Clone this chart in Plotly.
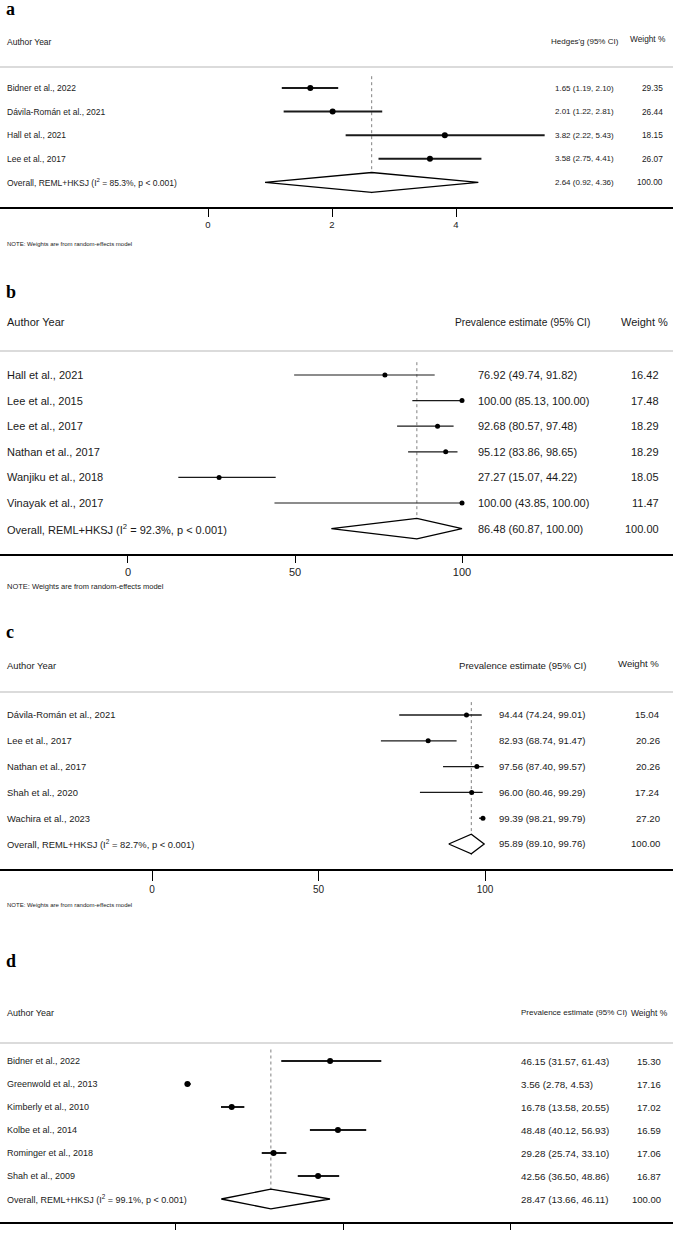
import plotly.graph_objects as go

# ---------------- data ----------------
# Panel a
a_study = ["Bidner et al., 2022", "Dávila-Román et al., 2021", "Hall et al., 2021", "Lee et al., 2017"]
a_est = [1.65, 2.01, 3.82, 3.58]
a_lo = [1.19, 1.22, 2.22, 2.75]
a_hi = [2.10, 2.81, 5.43, 4.41]
a_w = [29.35, 26.44, 18.15, 26.07]
a_overall = [2.64, 0.92, 4.36]
a_overall_w = 100.00
a_i2 = 85.3
a_ticks = [0, 2, 4]

# Panel b
b_study = ["Hall et al., 2021", "Lee et al., 2015", "Lee et al., 2017", "Nathan et al., 2017",
           "Wanjiku et al., 2018", "Vinayak et al., 2017"]
b_est = [76.92, 100.00, 92.68, 95.12, 27.27, 100.00]
b_lo = [49.74, 85.13, 80.57, 83.86, 15.07, 43.85]
b_hi = [91.82, 100.00, 97.48, 98.65, 44.22, 100.00]
b_w = [16.42, 17.48, 18.29, 18.29, 18.05, 11.47]
b_overall = [86.48, 60.87, 100.00]
b_overall_w = 100.00
b_i2 = 92.3
b_ticks = [0, 50, 100]

# Panel c
c_study = ["Dávila-Román et al., 2021", "Lee et al., 2017", "Nathan et al., 2017", "Shah et al., 2020",
           "Wachira et al., 2023"]
c_est = [94.44, 82.93, 97.56, 96.00, 99.39]
c_lo = [74.24, 68.74, 87.40, 80.46, 98.21]
c_hi = [99.01, 91.47, 99.57, 99.29, 99.79]
c_w = [15.04, 20.26, 20.26, 17.24, 27.20]
c_overall = [95.89, 89.10, 99.76]
c_overall_w = 100.00
c_i2 = 82.7
c_ticks = [0, 50, 100]

# Panel d
d_study = ["Bidner et al., 2022", "Greenwold et al., 2013", "Kimberly et al., 2010", "Kolbe et al., 2014",
           "Rominger et al., 2018", "Shah et al., 2009"]
d_est = [46.15, 3.56, 16.78, 48.48, 29.28, 42.56]
d_lo = [31.57, 2.78, 13.58, 40.12, 25.74, 36.50]
d_hi = [61.43, 4.53, 20.55, 56.93, 33.10, 48.86]
d_w = [15.30, 17.16, 17.02, 16.59, 17.06, 16.87]
d_overall = [28.47, 13.66, 46.11]
d_overall_w = 100.00
d_i2 = 99.1
d_ticks = [0, 50, 100]

# ---------------- styling / layout ----------------
W, H = 673, 1233
SANS = "Liberation Sans, Arial, sans-serif"
SERIF = "Liberation Serif, Times New Roman, serif"
NOTE = "NOTE: Weights are from random-effects model"
INK = "#1a1a1a"

panels = [
    dict(label="a", study=a_study, est=a_est, lo=a_lo, hi=a_hi, w=a_w, ov=a_overall, ovw=a_overall_w,
         i2=a_i2, ticks=a_ticks, cihead="Hedges'g (95% CI)",
         top=0, bottom=207, row0=88, step=23.6, xr=[-3.355, 7.5], lab_y=9,
         head_y=42, cihead_y=41, whead_y=39, rule_y=67, note_y=244, ticklen=8,
         fs=8.5, ci_fs=8, w_fs=8.3, cihead_fs=8, whead_fs=8.3, tick_fs=9.5, note_fs=6,
         cihead_x=549, ci_x=553, w_x=665, whead_x=668, lw=2.0, ms=6, dh=0.42),
    dict(label="b", study=b_study, est=b_est, lo=b_lo, hi=b_hi, w=b_w, ov=b_overall, ovw=b_overall_w,
         i2=b_i2, ticks=b_ticks, cihead="Prevalence estimate (95% CI)",
         top=280, bottom=554, row0=375, step=25.6, xr=[-38.32, 163.17], lab_y=292,
         head_y=322, cihead_y=322, whead_y=322, rule_y=351, note_y=586, ticklen=7,
         fs=11, ci_fs=11, w_fs=11, cihead_fs=10.2, whead_fs=11, tick_fs=11, note_fs=7.5,
         cihead_x=453, ci_x=476, w_x=661, whead_x=670, lw=1.2, ms=5, dh=0.40),
    dict(label="c", study=c_study, est=c_est, lo=c_lo, hi=c_hi, w=c_w, ov=c_overall, ovw=c_overall_w,
         i2=c_i2, ticks=c_ticks, cihead="Prevalence estimate (95% CI)",
         top=615, bottom=869, row0=715, step=25.8, xr=[-45.65, 156.46], lab_y=632,
         head_y=666, cihead_y=666, whead_y=664, rule_y=692, note_y=905, ticklen=10,
         fs=9.4, ci_fs=9.6, w_fs=9.6, cihead_fs=9.6, whead_fs=9.6, tick_fs=10, note_fs=6,
         cihead_x=457, ci_x=497, w_x=662, whead_x=661, lw=1.3, ms=5, dh=0.38),
    dict(label="d", study=d_study, est=d_est, lo=d_lo, hi=d_hi, w=d_w, ov=d_overall, ovw=d_overall_w,
         i2=d_i2, ticks=d_ticks, cihead="Prevalence estimate (95% CI)",
         top=945, bottom=1222, row0=1061, step=23, xr=[-52.39, 148.51], lab_y=961,
         head_y=1013, cihead_y=1013, whead_y=1013, rule_y=1043, note_y=None, ticklen=6,
         fs=9, ci_fs=9.8, w_fs=9.5, cihead_fs=8.0, whead_fs=8.5, tick_fs=10, note_fs=6,
         cihead_x=519, ci_x=519, w_x=663, whead_x=670, lw=2.0, ms=6, dh=0.43),
]

fig = go.Figure()
annotations = []
shapes = []
layout_axes = {}


def py(pix):
    return 1 - pix / H


def txt(s, x, y, yref, size, anchor="left", family=SANS):
    return dict(text=s, xref="paper", yref=yref, x=x / W, y=y, xanchor=anchor, yanchor="middle",
                showarrow=False, font=dict(family=family, size=size, color=INK))


for i, p in enumerate(panels):
    n = len(p["study"])
    sfx = "" if i == 0 else str(i + 1)
    xa, ya = "x" + sfx, "y" + sfx
    rows = list(range(n))
    orow = n

    def r(pix, p=p):
        return (pix - p["row0"]) / p["step"]

    # axes
    layout_axes["xaxis" + sfx] = dict(
        domain=[0, 1], anchor=ya, range=p["xr"], tickvals=p["ticks"], ticktext=[str(t) for t in p["ticks"]],
        showline=True, linecolor="black", linewidth=1.7, ticks="outside", ticklen=p["ticklen"], tickwidth=1,
        tickcolor="black", showgrid=False, zeroline=False, automargin=False,
        tickfont=dict(family=SANS, size=p["tick_fs"], color="#222"))
    layout_axes["yaxis" + sfx] = dict(
        domain=[py(p["bottom"]), py(p["top"])], anchor=xa, range=[r(p["bottom"]), r(p["top"])],
        visible=False, showgrid=False, zeroline=False, automargin=False)

    # dashed overall line
    fig.add_trace(go.Scatter(x=[p["ov"][0], p["ov"][0]], y=[-0.5, orow + p["dh"] + 0.05], mode="lines",
                             line=dict(color="#808080", width=1, dash="3px,3px"), xaxis=xa, yaxis=ya,
                             hoverinfo="skip"))
    # CI lines
    lx, ly = [], []
    for k in rows:
        lx += [p["lo"][k], p["hi"][k], None]
        ly += [k, k, None]
    fig.add_trace(go.Scatter(x=lx, y=ly, mode="lines", line=dict(color=INK, width=p["lw"]),
                             xaxis=xa, yaxis=ya, hoverinfo="skip"))
    # point estimates
    fig.add_trace(go.Scatter(x=p["est"], y=rows, mode="markers",
                             marker=dict(color="black", size=p["ms"], line=dict(width=0)),
                             xaxis=xa, yaxis=ya))
    # overall diamond
    e, lo, hi = p["ov"]
    h = p["dh"]
    fig.add_trace(go.Scatter(x=[lo, e, hi, e, lo], y=[orow, orow - h, orow, orow + h, orow], mode="lines",
                             fill="toself", fillcolor="white", line=dict(color="black", width=1.3),
                             xaxis=xa, yaxis=ya, hoverinfo="skip"))

    # header rule
    shapes.append(dict(type="line", xref="paper", x0=0, x1=1, yref=ya, y0=r(p["rule_y"]), y1=r(p["rule_y"]),
                       line=dict(color="#cfcfcf", width=1.5)))

    # panel label
    annotations.append(dict(text="<b>%s</b>" % p["label"], xref="paper", yref="paper", x=4 / W,
                            y=py(p["lab_y"]), xanchor="left", yanchor="middle", showarrow=False,
                            font=dict(family=SERIF, size=18, color="black")))
    # headers
    annotations.append(txt("Author Year", 5, r(p["head_y"]), ya, p["fs"]))
    annotations.append(txt(p["cihead"], p["cihead_x"], r(p["cihead_y"]), ya, p["cihead_fs"]))
    annotations.append(txt("Weight %", p["whead_x"], r(p["whead_y"]), ya, p["whead_fs"], "right"))
    # rows
    for k in rows:
        annotations.append(txt(p["study"][k], 5, k, ya, p["fs"]))
        annotations.append(txt("%.2f (%.2f, %.2f)" % (p["est"][k], p["lo"][k], p["hi"][k]),
                               p["ci_x"], k, ya, p["ci_fs"]))
        annotations.append(txt("%.2f" % p["w"][k], p["w_x"], k, ya, p["w_fs"], "right"))
    annotations.append(txt("Overall, REML+HKSJ (I<sup>2</sup> = %.1f%%, p &lt; 0.001)" % p["i2"],
                           5, orow, ya, p["fs"]))
    annotations.append(txt("%.2f (%.2f, %.2f)" % (e, lo, hi), p["ci_x"], orow, ya, p["ci_fs"]))
    annotations.append(txt("%.2f" % p["ovw"], p["w_x"], orow, ya, p["w_fs"], "right"))
    if p["note_y"] is not None:
        annotations.append(txt(NOTE, 5, py(p["note_y"]), "paper", p["note_fs"]))

fig.update_layout(width=W, height=H, margin=dict(l=0, r=0, t=0, b=0, autoexpand=False),
                  paper_bgcolor="white", plot_bgcolor="white", showlegend=False,
                  annotations=annotations, shapes=shapes, **layout_axes)

fig.write_html("out.html")
